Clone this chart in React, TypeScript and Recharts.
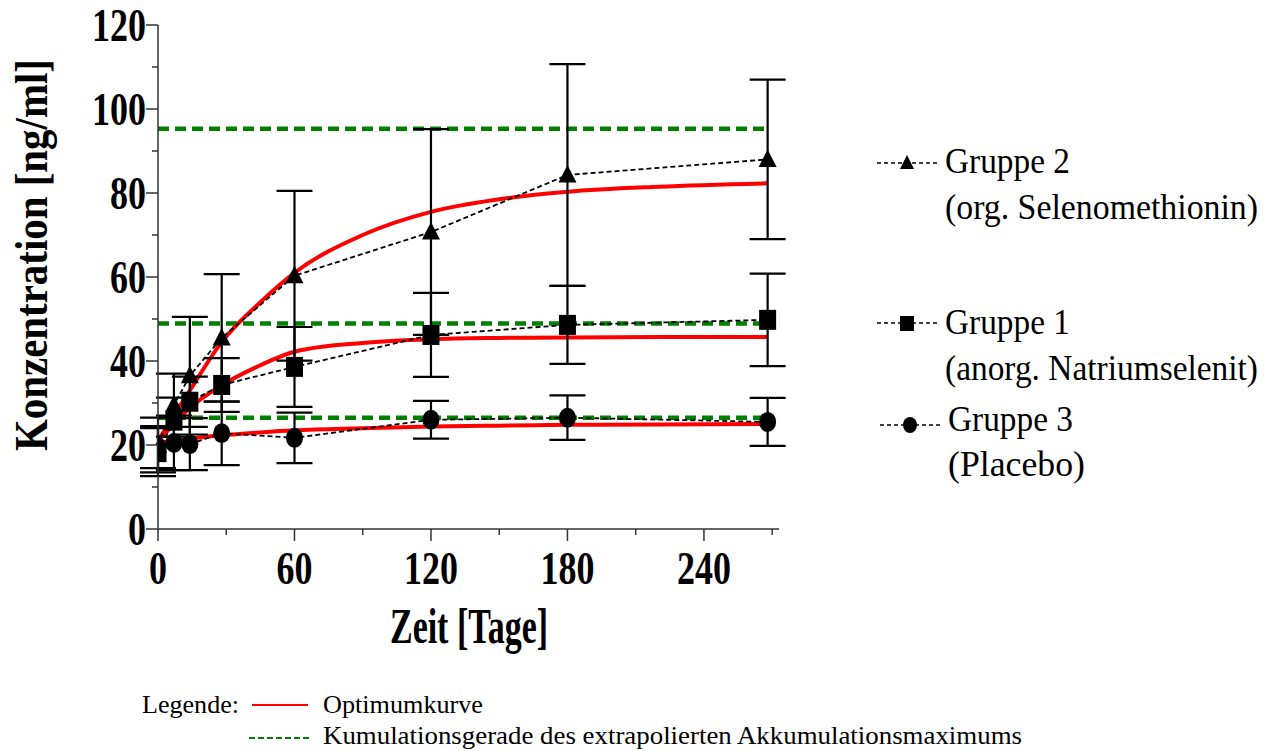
import React from 'react'
import { LineChart, Line, XAxis, YAxis, ErrorBar } from 'recharts'

// measured days
const days = [0, 7, 14, 28, 60, 120, 180, 268]

// Gruppe 2 (org. Selenomethionin) - triangles
const gruppe2 = [20, 29.5, 36.5, 45.5, 60.3, 70.7, 84.3, 88]
const gruppe2Sd = [6.5, 7.5, 14, 15.2, 20.2, 24.5, 26.4, 19]

// Gruppe 1 (anorg. Natriumselenit) - squares
const gruppe1 = [18.3, 25.8, 30.3, 34.3, 38.6, 46.2, 48.6, 49.8]
const gruppe1Sd = [5.7, 5.5, 6, 6.4, 9.5, 10, 9.3, 11]

// Gruppe 3 (Placebo) - circles
const gruppe3 = [19.5, 20.5, 20.2, 22.8, 21.7, 26, 26.5, 25.5]
const gruppe3Sd = [5, 6.5, 6.2, 7.6, 6, 4.5, 5.3, 5.7]

// Optimumkurven
const fitDays = [0, 7, 14, 28, 45, 60, 90, 120, 150, 180, 220, 268]
const fit2 = [21, 27, 33, 44.5, 54, 61, 70, 75.5, 78.5, 80.3, 81.5, 82.3]
const fit1 = [21, 25, 28.8, 34.2, 39, 42.2, 44.3, 45.2, 45.5, 45.6, 45.7, 45.7]
const fit3 = [20.5, 21, 21.5, 22.3, 23, 23.5, 24, 24.4, 24.6, 24.8, 24.9, 25]

// Kumulationsgeraden
const plateaus = [95.3, 48.9, 26.5]
const plateauDays = [0, 268]

const xTicks = [0, 30, 60, 90, 120, 150, 180, 210, 240, 270]
const yTicks = [0, 10, 20, 30, 40, 50, 60, 70, 80, 90, 100, 110, 120]

const serif = "'Liberation Serif', 'Times New Roman', serif"
const axisColor = '#333'

const points = (ys: number[], sds: number[]) => days.map((t, i) => ({ t, y: ys[i], sd: sds[i] }))
const curve = (ys: number[]) => fitDays.map((t, i) => ({ t, y: ys[i] }))

const g2Data = points(gruppe2, gruppe2Sd)
const g1Data = points(gruppe1, gruppe1Sd)
const g3Data = points(gruppe3, gruppe3Sd)

const Triangle = (props: any) => {
  const { cx, cy, index } = props
  if (cx == null || cy == null) return null
  return <path key={`tri-${index}`} d={`M${cx},${cy - 10} L${cx + 9},${cy + 7.5} L${cx - 9},${cy + 7.5} Z`} fill="#000" />
}

const Square = (props: any) => {
  const { cx, cy, index } = props
  if (cx == null || cy == null) return null
  return <rect key={`sq-${index}`} x={cx - 8.5} y={cy - 10} width={17} height={20} fill="#000" />
}

const Circle = (props: any) => {
  const { cx, cy, index } = props
  if (cx == null || cy == null) return null
  return <ellipse key={`ci-${index}`} cx={cx} cy={cy} rx={8.5} ry={10} fill="#000" />
}

const XTick = ({ x, y, payload }: any) => {
  const v = payload.value
  const major = v % 60 === 0
  return (
    <g>
      <line x1={x} y1={y} x2={x} y2={y + (major ? 12 : 6)} stroke={axisColor} strokeWidth={1.5} />
      {major && (
        <text x={x} y={y + 55} textAnchor="middle" fontFamily={serif} fontWeight="bold" fontSize={46}
          textLength={18 * String(v).length} lengthAdjust="spacingAndGlyphs" fill="#000">{v}</text>
      )}
    </g>
  )
}

const YTick = ({ x, y, payload }: any) => {
  const v = payload.value
  const major = v % 20 === 0
  return (
    <g>
      <line x1={x} y1={y} x2={x - (major ? 12 : 6)} y2={y} stroke={axisColor} strokeWidth={1.5} />
      {major && (
        <text x={x - 12} y={y + 16} textAnchor="end" fontFamily={serif} fontWeight="bold" fontSize={46}
          textLength={18 * String(v).length} lengthAdjust="spacingAndGlyphs" fill="#000">{v}</text>
      )}
    </g>
  )
}

const legendText = (x: number, y: number, s: string, len: number, size = 35) => (
  <text x={x} y={y} fontFamily={serif} fontSize={size} textLength={len} lengthAdjust="spacingAndGlyphs" fill="#000">{s}</text>
)

export default function App() {
  return (
    <div style={{ position: 'absolute', left: 0, top: 0, width: 1278, height: 751, background: '#fff' }}>
      <LineChart width={1278} height={751} margin={{ top: 25, right: 499, bottom: 162, left: 98 }}>
        <XAxis type="number" dataKey="t" domain={[0, 273]} ticks={xTicks} allowDataOverflow
          height={60} tickSize={0} tickMargin={0} tickLine={false} interval={0}
          axisLine={{ stroke: axisColor, strokeWidth: 1.5 }} tick={<XTick />} />
        <YAxis type="number" dataKey="y" domain={[0, 120]} ticks={yTicks} allowDataOverflow
          width={60} tickSize={0} tickMargin={0} tickLine={false} interval={0}
          axisLine={{ stroke: axisColor, strokeWidth: 1.5 }} tick={<YTick />} />

        {plateaus.map((p, i) => (
          <Line key={`pl-${i}`} data={plateauDays.map((t) => ({ t, y: p }))} dataKey="y" type="linear"
            stroke="#008000" strokeWidth={4.5} strokeDasharray="11 6" dot={false} isAnimationActive={false} />
        ))}

        <Line data={curve(fit2)} dataKey="y" type="monotone" stroke="#ff0000" strokeWidth={4} dot={false} isAnimationActive={false} />
        <Line data={curve(fit1)} dataKey="y" type="monotone" stroke="#ff0000" strokeWidth={4} dot={false} isAnimationActive={false} />
        <Line data={curve(fit3)} dataKey="y" type="monotone" stroke="#ff0000" strokeWidth={4} dot={false} isAnimationActive={false} />

        <Line data={g3Data} dataKey="y" type="linear" stroke="#000" strokeWidth={1.8} strokeDasharray="5 3"
          dot={<Circle />} activeDot={false} isAnimationActive={false}>
          <ErrorBar dataKey="sd" width={18} strokeWidth={2.2} stroke="#000" direction="y" isAnimationActive={false} />
        </Line>
        <Line data={g1Data} dataKey="y" type="linear" stroke="#000" strokeWidth={1.8} strokeDasharray="5 3"
          dot={<Square />} activeDot={false} isAnimationActive={false}>
          <ErrorBar dataKey="sd" width={18} strokeWidth={2.2} stroke="#000" direction="y" isAnimationActive={false} />
        </Line>
        <Line data={g2Data} dataKey="y" type="linear" stroke="#000" strokeWidth={1.8} strokeDasharray="5 3"
          dot={<Triangle />} activeDot={false} isAnimationActive={false}>
          <ErrorBar dataKey="sd" width={18} strokeWidth={2.2} stroke="#000" direction="y" isAnimationActive={false} />
        </Line>
      </LineChart>

      <svg width={1278} height={751} style={{ position: 'absolute', left: 0, top: 0, pointerEvents: 'none' }}>
        {/* axis titles */}
        <text transform="translate(47,255) rotate(-90)" textAnchor="middle" fontFamily={serif} fontWeight="bold"
          fontSize={47} textLength={392} lengthAdjust="spacingAndGlyphs" fill="#000">Konzentration [ng/ml]</text>
        <text x={469} y={643} textAnchor="middle" fontFamily={serif} fontWeight="bold" fontSize={50}
          textLength={158} lengthAdjust="spacingAndGlyphs" fill="#000">Zeit [Tage]</text>

        {/* group legend */}
        <line x1={877} y1={163} x2={937} y2={163} stroke="#000" strokeWidth={1.5} strokeDasharray="4 3" />
        <path d="M907,155 L914,169 L900,169 Z" fill="#000" />
        {legendText(945, 173, 'Gruppe 2', 125, 36)}
        {legendText(945, 219, '(org. Selenomethionin)', 313, 36)}

        <line x1={877} y1={323} x2={937} y2={323} stroke="#000" strokeWidth={1.5} strokeDasharray="4 3" />
        <rect x={900} y={316} width={14} height={15} fill="#000" />
        {legendText(945, 334, 'Gruppe 1', 125, 36)}
        {legendText(945, 380, '(anorg. Natriumselenit)', 313, 36)}

        <line x1={880} y1={425} x2={940} y2={425} stroke="#000" strokeWidth={1.5} strokeDasharray="4 3" />
        <ellipse cx={910} cy={425} rx={7} ry={8} fill="#000" />
        {legendText(948, 431, 'Gruppe 3', 125, 36)}
        {legendText(948, 476, '(Placebo)', 137, 36)}

        {/* bottom legend */}
        {legendText(142, 713, 'Legende:', 97, 26)}
        <line x1={252} y1={705} x2={308} y2={705} stroke="#ff0000" strokeWidth={2} />
        {legendText(323, 713, 'Optimumkurve', 160, 26)}
        <line x1={249} y1={738} x2={310} y2={738} stroke="#008000" strokeWidth={2} strokeDasharray="6 3" />
        {legendText(323, 744, 'Kumulationsgerade des extrapolierten Akkumulationsmaximums', 699, 26)}
      </svg>
    </div>
  )
}
